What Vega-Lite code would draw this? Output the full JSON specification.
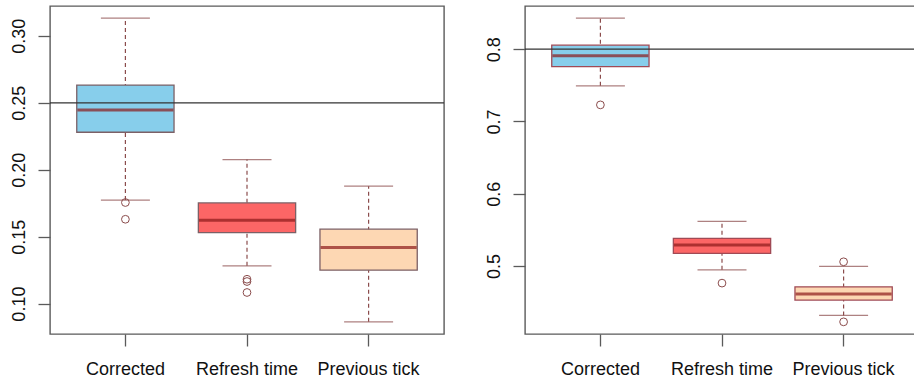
{
  "$schema": "https://vega.github.io/schema/vega-lite/v6.json",
  "padding": {"left": 9, "top": 5, "right": 0, "bottom": 0},
  "background": "white",
  "spacing": 38,
  "datasets": {
    "statsL": [
      {"group": "Corrected", "lower": 0.1773, "q1": 0.2280, "median": 0.2447, "q3": 0.2632, "upper": 0.3132},
      {"group": "Refresh time", "lower": 0.1282, "q1": 0.1530, "median": 0.1623, "q3": 0.1752, "upper": 0.2076},
      {"group": "Previous tick", "lower": 0.0864, "q1": 0.1250, "median": 0.1419, "q3": 0.1556, "upper": 0.1877}
    ],
    "statsR": [
      {"group": "Corrected", "lower": 0.7492, "q1": 0.7759, "median": 0.7907, "q3": 0.8055, "upper": 0.8429},
      {"group": "Refresh time", "lower": 0.4947, "q1": 0.5174, "median": 0.5290, "q3": 0.5382, "upper": 0.5618},
      {"group": "Previous tick", "lower": 0.4316, "q1": 0.4528, "median": 0.4611, "q3": 0.4712, "upper": 0.4994}
    ],
    "outL": [
      {"group": "Corrected", "value": 0.1755},
      {"group": "Corrected", "value": 0.1630},
      {"group": "Refresh time", "value": 0.1182},
      {"group": "Refresh time", "value": 0.1165},
      {"group": "Refresh time", "value": 0.1083}
    ],
    "outR": [
      {"group": "Corrected", "value": 0.7229},
      {"group": "Refresh time", "value": 0.4763},
      {"group": "Previous tick", "value": 0.5058},
      {"group": "Previous tick", "value": 0.4227}
    ],
    "refL": [{"ref": 0.25}],
    "refR": [{"ref": 0.8}]
  },
  "hconcat": [
    {
      "width": 394,
      "height": 328,
      "layer": [
        {
          "data": {"name": "statsL"},
          "mark": {"type": "rule", "color": "#8b4c4c", "strokeWidth": 1.2, "strokeDash": [4, 3]},
          "encoding": {
            "x": {"field": "group", "type": "nominal", "sort": ["Corrected", "Refresh time", "Previous tick"], "scale": {"paddingInner": 0.2, "paddingOuter": 0.22}, "title": null, "axis": {"labelAngle": 0}},
            "y": {"field": "lower", "type": "quantitative", "scale": {"domain": [0.0773, 0.3223], "nice": false, "zero": false}, "title": null, "axis": {"values": [0.10, 0.15, 0.20, 0.25, 0.30], "format": ".2f"}},
            "y2": {"field": "upper"}
          }
        },
        {
          "data": {"name": "statsL"},
          "mark": {"type": "tick", "color": "#8b4c4c", "thickness": 1.3, "size": 49},
          "encoding": {
            "x": {"field": "group", "type": "nominal", "sort": ["Corrected", "Refresh time", "Previous tick"], "title": null},
            "y": {"field": "lower", "type": "quantitative", "title": null}
          }
        },
        {
          "data": {"name": "statsL"},
          "mark": {"type": "tick", "color": "#8b4c4c", "thickness": 1.3, "size": 49},
          "encoding": {
            "x": {"field": "group", "type": "nominal", "sort": ["Corrected", "Refresh time", "Previous tick"], "title": null},
            "y": {"field": "upper", "type": "quantitative", "title": null}
          }
        },
        {
          "data": {"name": "statsL"},
          "mark": {"type": "bar", "stroke": "#7c6066", "strokeWidth": 1.3},
          "encoding": {
            "x": {"field": "group", "type": "nominal", "sort": ["Corrected", "Refresh time", "Previous tick"], "title": null},
            "y": {"field": "q1", "type": "quantitative", "title": null},
            "y2": {"field": "q3"},
            "fill": {"field": "group", "type": "nominal", "scale": {"domain": ["Corrected", "Refresh time", "Previous tick"], "range": ["#87ceeb", "#fc6666", "#fdd7b3"]}, "legend": null}
          }
        },
        {
          "data": {"name": "statsL"},
          "mark": {"type": "tick", "color": "#8b1a1a", "thickness": 3, "size": 96},
          "encoding": {
            "x": {"field": "group", "type": "nominal", "sort": ["Corrected", "Refresh time", "Previous tick"], "title": null},
            "y": {"field": "median", "type": "quantitative", "title": null}
          }
        },
        {
          "data": {"name": "outL"},
          "mark": {"type": "point", "shape": "circle", "filled": false, "size": 60, "stroke": "#8b4c4c", "strokeWidth": 1, "opacity": 1},
          "encoding": {
            "x": {"field": "group", "type": "nominal", "sort": ["Corrected", "Refresh time", "Previous tick"], "title": null},
            "y": {"field": "value", "type": "quantitative", "title": null}
          }
        },
        {
          "data": {"name": "refL"},
          "mark": {"type": "rule", "color": "#333333", "strokeWidth": 1.3},
          "encoding": {
            "y": {"field": "ref", "type": "quantitative", "title": null}
          }
        }
      ]
    },
    {
      "width": 394,
      "height": 328,
      "layer": [
        {
          "data": {"name": "statsR"},
          "mark": {"type": "rule", "color": "#8b4c4c", "strokeWidth": 1.2, "strokeDash": [4, 3]},
          "encoding": {
            "x": {"field": "group", "type": "nominal", "sort": ["Corrected", "Refresh time", "Previous tick"], "scale": {"paddingInner": 0.2, "paddingOuter": 0.22}, "title": null, "axis": {"labelAngle": 0}},
            "y": {"field": "lower", "type": "quantitative", "scale": {"domain": [0.4059, 0.8597], "nice": false, "zero": false}, "title": null, "axis": {"values": [0.5, 0.6, 0.7, 0.8], "format": ".1f"}},
            "y2": {"field": "upper"}
          }
        },
        {
          "data": {"name": "statsR"},
          "mark": {"type": "tick", "color": "#8b4c4c", "thickness": 1.3, "size": 49},
          "encoding": {
            "x": {"field": "group", "type": "nominal", "sort": ["Corrected", "Refresh time", "Previous tick"], "title": null},
            "y": {"field": "lower", "type": "quantitative", "title": null}
          }
        },
        {
          "data": {"name": "statsR"},
          "mark": {"type": "tick", "color": "#8b4c4c", "thickness": 1.3, "size": 49},
          "encoding": {
            "x": {"field": "group", "type": "nominal", "sort": ["Corrected", "Refresh time", "Previous tick"], "title": null},
            "y": {"field": "upper", "type": "quantitative", "title": null}
          }
        },
        {
          "data": {"name": "statsR"},
          "mark": {"type": "bar", "stroke": "#a04a55", "strokeWidth": 1.3},
          "encoding": {
            "x": {"field": "group", "type": "nominal", "sort": ["Corrected", "Refresh time", "Previous tick"], "title": null},
            "y": {"field": "q1", "type": "quantitative", "title": null},
            "y2": {"field": "q3"},
            "fill": {"field": "group", "type": "nominal", "scale": {"domain": ["Corrected", "Refresh time", "Previous tick"], "range": ["#87ceeb", "#fc6666", "#fdd7b3"]}, "legend": null}
          }
        },
        {
          "data": {"name": "statsR"},
          "mark": {"type": "tick", "color": "#8b1a1a", "thickness": 3, "size": 96},
          "encoding": {
            "x": {"field": "group", "type": "nominal", "sort": ["Corrected", "Refresh time", "Previous tick"], "title": null},
            "y": {"field": "median", "type": "quantitative", "title": null}
          }
        },
        {
          "data": {"name": "outR"},
          "mark": {"type": "point", "shape": "circle", "filled": false, "size": 60, "stroke": "#8b4c4c", "strokeWidth": 1, "opacity": 1},
          "encoding": {
            "x": {"field": "group", "type": "nominal", "sort": ["Corrected", "Refresh time", "Previous tick"], "title": null},
            "y": {"field": "value", "type": "quantitative", "title": null}
          }
        },
        {
          "data": {"name": "refR"},
          "mark": {"type": "rule", "color": "#333333", "strokeWidth": 1.3},
          "encoding": {
            "y": {"field": "ref", "type": "quantitative", "title": null}
          }
        }
      ]
    }
  ],
  "config": {
    "view": {"stroke": "#5a5a5a", "strokeWidth": 1.4},
    "axis": {"domain": false, "grid": false, "tickSize": 12, "tickColor": "#5a5a5a", "tickWidth": 1.3, "labelFont": "Liberation Sans", "labelFontSize": 18, "labelColor": "#111111"},
    "axisX": {"labelAngle": 0, "labelPadding": 28, "labelBaseline": "alphabetic"},
    "axisY": {"labelAngle": -90, "labelAlign": "center", "labelBaseline": "alphabetic", "labelPadding": 13.7}
  }
}
